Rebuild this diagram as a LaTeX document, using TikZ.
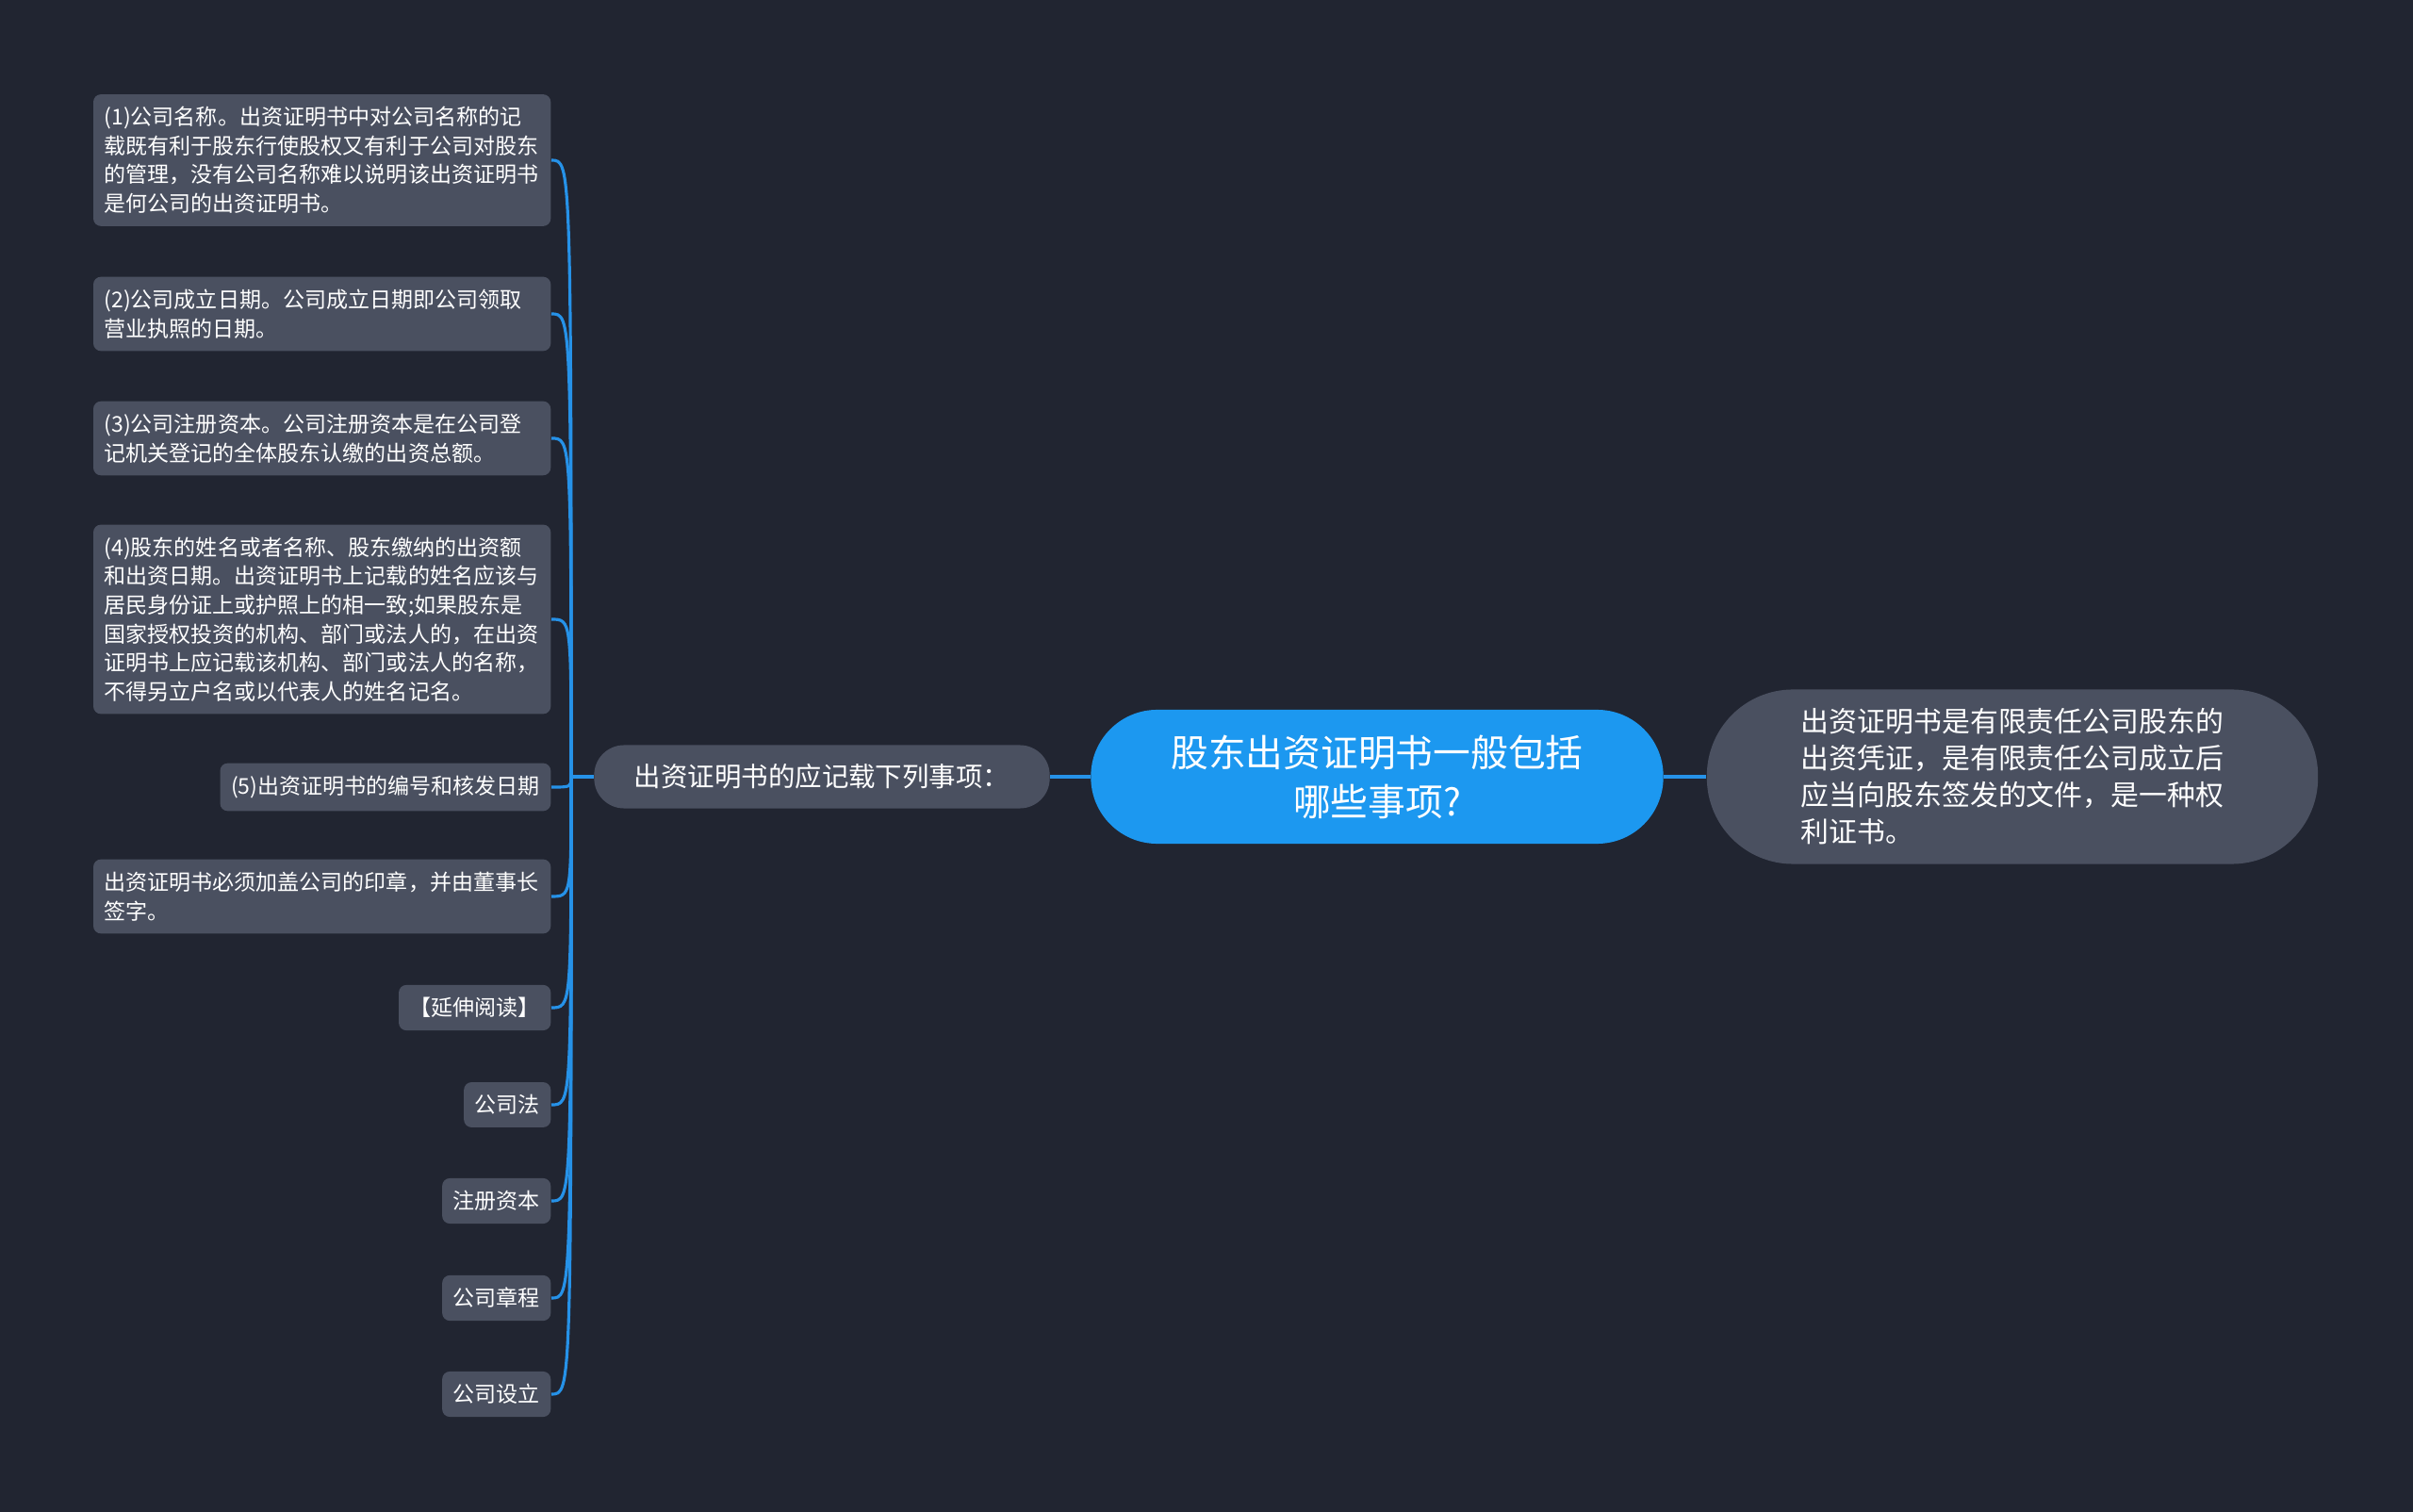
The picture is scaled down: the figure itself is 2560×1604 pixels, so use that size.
\documentclass[tikz,border=0pt]{standalone}
\usepackage{fontspec}
\setmainfont{Noto Sans CJK SC}
\definecolor{bgdark}{RGB}{33,37,49}
\definecolor{boxgray}{RGB}{74,80,96}
\definecolor{rootblue}{RGB}{28,152,240}
\definecolor{linkblue}{RGB}{38,146,232}

\begin{document}
\begin{tikzpicture}[
    x=0.01cm, y=-0.01cm,
    leaf/.style={fill=boxgray, text=white, rounded corners=2.3pt, inner xsep=3.27pt, inner ysep=3.8pt, font=\fontsize{6.55pt}{8.68pt}\selectfont, align=left, anchor=east},
    leafwide/.style={leaf, text width=4.62cm},
    pill/.style={fill=boxgray, text=white, align=center},
    link/.style={draw=linkblue, line width=0.9pt}
]

    \fill[bgdark] (0,0) rectangle (2560,1604);

    \node[fill=rootblue, text=white, align=center, minimum width=6.07cm, minimum height=1.42cm, rounded corners=20pt, font=\fontsize{11.3pt}{14.8pt}\selectfont] (Q) at (1461,824) {股东出资证明书一般包括\\哪些事项?};
    \node[pill, minimum width=4.83cm, minimum height=0.67cm, rounded corners=9pt, font=\fontsize{8.1pt}{10pt}\selectfont] (M) at (872,824) {出资证明书的应记载下列事项：};
    \node[pill, align=left, minimum width=6.48cm, minimum height=1.85cm, rounded corners=26pt, font=\fontsize{8.5pt}{11.1pt}\selectfont] (R) at (2135,824) {出资证明书是有限责任公司股东的\\出资凭证，是有限责任公司成立后\\应当向股东签发的文件，是一种权\\利证书。\hspace*{0.1cm}};

    \node[leafwide] (L1) at (585,170) {(1)公司名称。出资证明书中对公司名称的记\\载既有利于股东行使股权又有利于公司对股东\\的管理，没有公司名称难以说明该出资证明书\\是何公司的出资证明书。};
    \node[leafwide] (L2) at (585,333) {(2)公司成立日期。公司成立日期即公司领取\\营业执照的日期。};
    \node[leafwide] (L3) at (585,465) {(3)公司注册资本。公司注册资本是在公司登\\记机关登记的全体股东认缴的出资总额。};
    \node[leafwide] (L4) at (585,657) {(4)股东的姓名或者名称、股东缴纳的出资额\\和出资日期。出资证明书上记载的姓名应该与\\居民身份证上或护照上的相一致;如果股东是\\国家授权投资的机构、部门或法人的，在出资\\证明书上应记载该机构、部门或法人的名称，\\不得另立户名或以代表人的姓名记名。};
    \node[leaf] (L5) at (585,835) {(5)出资证明书的编号和核发日期};
    \node[leafwide] (L6) at (585,951) {出资证明书必须加盖公司的印章，并由董事长\\签字。};
    \node[leaf] (L7) at (585,1069) {【延伸阅读】};
    \node[leaf] (L8) at (585,1172) {公司法};
    \node[leaf] (L9) at (585,1274) {注册资本};
    \node[leaf] (L10) at (585,1377) {公司章程};
    \node[leaf] (L11) at (585,1479) {公司设立};

    \coordinate (H) at (606,824);

    \draw[link] (M.east) -- (Q.west);
    \draw[link] (Q.east) -- (R.west);
    \draw[link] (M.west) -- (H);

    \draw[link] (H) .. controls (H |- L1.east) .. (L1.east);
    \draw[link] (H) .. controls (H |- L2.east) .. (L2.east);
    \draw[link] (H) .. controls (H |- L3.east) .. (L3.east);
    \draw[link] (H) .. controls (H |- L4.east) .. (L4.east);
    \draw[link] (H) .. controls (H |- L5.east) .. (L5.east);
    \draw[link] (H) .. controls (H |- L6.east) .. (L6.east);
    \draw[link] (H) .. controls (H |- L7.east) .. (L7.east);
    \draw[link] (H) .. controls (H |- L8.east) .. (L8.east);
    \draw[link] (H) .. controls (H |- L9.east) .. (L9.east);
    \draw[link] (H) .. controls (H |- L10.east) .. (L10.east);
    \draw[link] (H) .. controls (H |- L11.east) .. (L11.east);
\end{tikzpicture}
\end{document}
